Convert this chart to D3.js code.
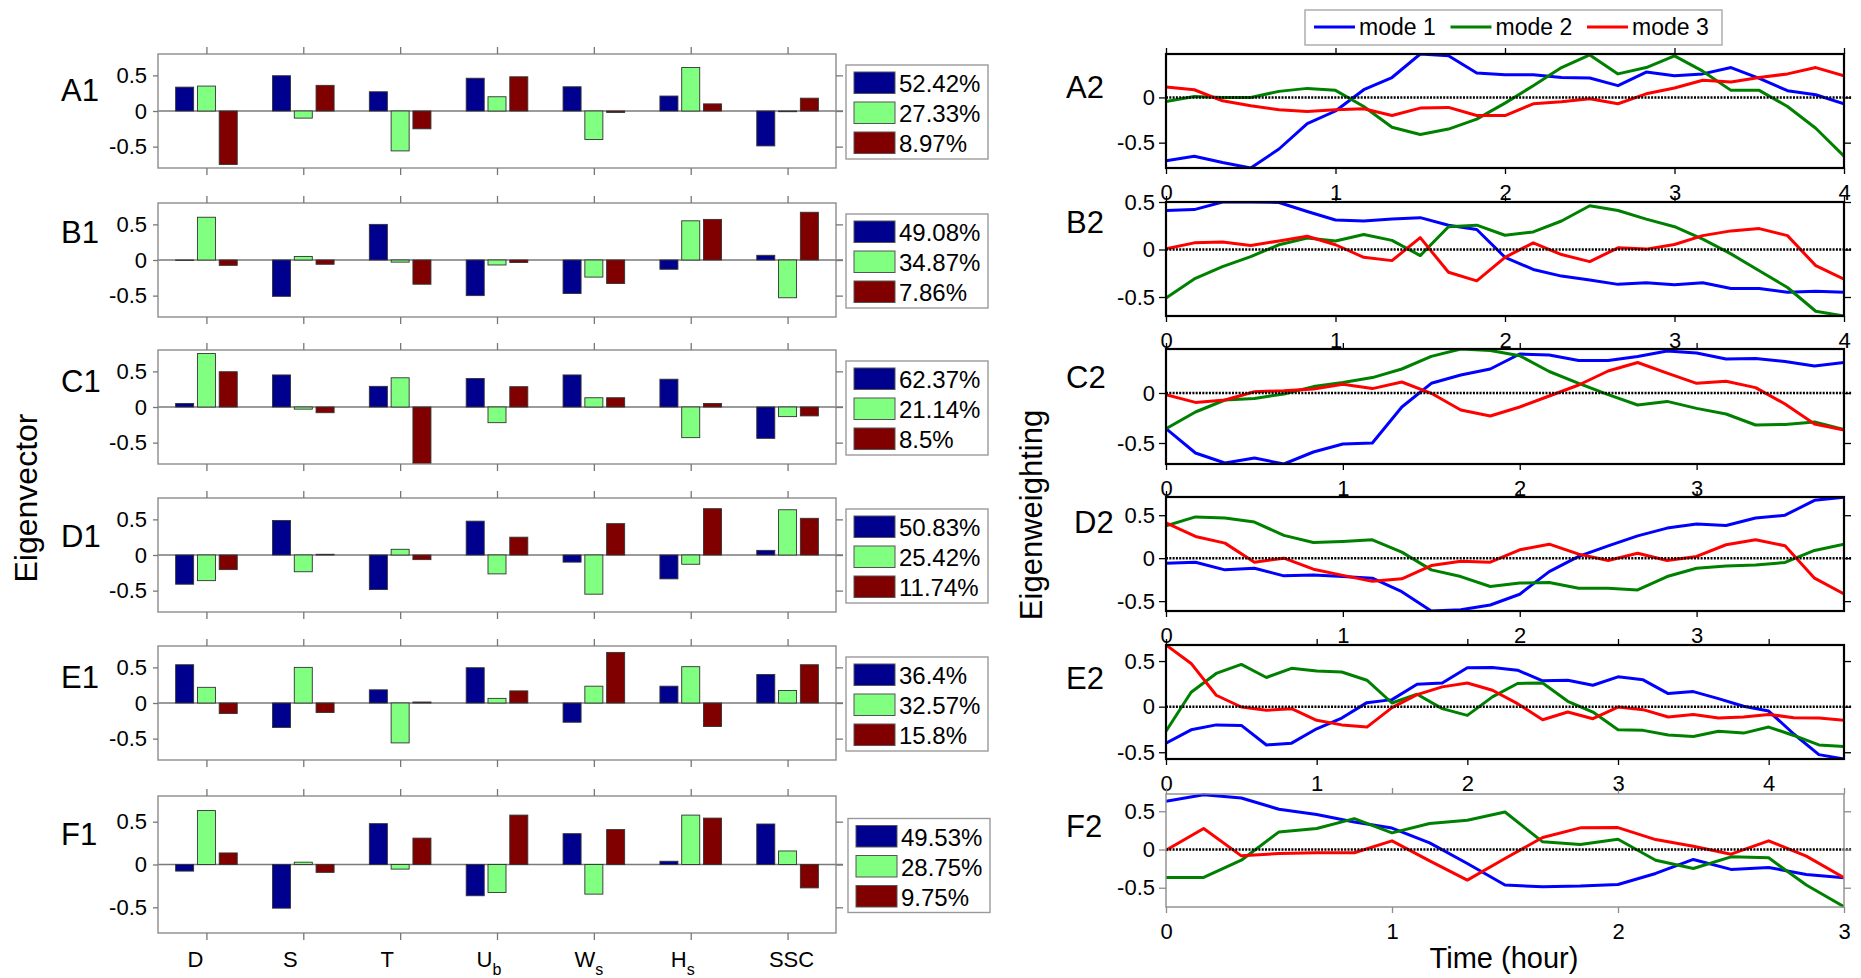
<!DOCTYPE html>
<html>
<head>
<meta charset="utf-8">
<script src="https://cdn.jsdelivr.net/npm/d3@7"></script>
<style>
  body { margin: 0; background: #fff; }
  svg text { font-family: "Liberation Sans", Arial, Helvetica, sans-serif; fill: #000; }
</style>
</head>
<body>
<svg id="chart" width="1861" height="978"></svg>
<script>
// ---------------- data ----------------
const categoryMain = ["D", "S", "T", "U", "W", "H", "SSC"];
const categorySub  = ["",  "",  "",  "b", "s", "s", ""];
const modeNames = ["mode 1", "mode 2", "mode 3"];
const panelNames = ["A", "B", "C", "D", "E", "F"];

// eigenvectors (mode 1, mode 2, mode 3) for each variable
const eigenA = [
  [0.335, 0.495, 0.27, 0.46, 0.34, 0.21, -0.49],
  [0.35, -0.10, -0.56, 0.20, -0.40, 0.61, -0.01],
  [-0.75, 0.36, -0.25, 0.48, -0.02, 0.10, 0.18]
];
const eigenB = [
  [-0.005, -0.51, 0.50, -0.50, -0.47, -0.13, 0.066],
  [0.60, 0.05, -0.03, -0.07, -0.24, 0.55, -0.53],
  [-0.075, -0.06, -0.34, -0.035, -0.33, 0.57, 0.67]
];
const eigenC = [
  [0.05, 0.45, 0.29, 0.40, 0.45, 0.39, -0.44],
  [0.75, -0.03, 0.41, -0.22, 0.13, -0.43, -0.135],
  [0.495, -0.08, -0.80, 0.285, 0.13, 0.05, -0.125]
];
const eigenD = [
  [-0.41, 0.485, -0.485, 0.475, -0.10, -0.335, 0.065],
  [-0.36, -0.235, 0.08, -0.265, -0.55, -0.13, 0.635],
  [-0.205, 0.01, -0.065, 0.25, 0.44, 0.65, 0.515]
];
const eigenE = [
  [0.537, -0.343, 0.185, 0.495, -0.27, 0.236, 0.40],
  [0.22, 0.50, -0.56, 0.065, 0.236, 0.51, 0.176],
  [-0.148, -0.134, 0.014, 0.17, 0.71, -0.33, 0.537]
];
const eigenF = [
  [-0.077, -0.51, 0.477, -0.365, 0.36, 0.038, 0.473],
  [0.63, 0.027, -0.054, -0.327, -0.346, 0.577, 0.158],
  [0.135, -0.092, 0.308, 0.577, 0.408, 0.542, -0.273]
];

// explained variance of each mode (%)
const varianceA = [52.42, 27.33, 8.97];
const varianceB = [49.08, 34.87, 7.86];
const varianceC = [62.37, 21.14, 8.5];
const varianceD = [50.83, 25.42, 11.74];
const varianceE = [36.4, 32.57, 15.8];
const varianceF = [49.53, 28.75, 9.75];

// eigenweighting time series, sampled every 10 minutes
const timeStep = 1 / 6; // hours
const weightA1 = [-0.70, -0.65, -0.72, -0.78, -0.57, -0.29, -0.15, 0.085, 0.22, 0.48, 0.46, 0.27, 0.25, 0.25, 0.22, 0.215, 0.13, 0.28, 0.24, 0.26, 0.33, 0.21, 0.075, 0.03, -0.07];
const weightA2 = [-0.045, 0.01, 0.0, 0.0, 0.067, 0.10, 0.078, -0.10, -0.33, -0.41, -0.35, -0.24, -0.063, 0.13, 0.33, 0.47, 0.26, 0.33, 0.46, 0.29, 0.078, 0.078, -0.10, -0.34, -0.65];
const weightA3 = [0.115, 0.085, -0.037, -0.093, -0.137, -0.155, -0.137, -0.126, -0.20, -0.118, -0.11, -0.20, -0.20, -0.07, -0.048, -0.015, -0.07, 0.04, 0.104, 0.19, 0.17, 0.22, 0.26, 0.33, 0.24];

const weightB1 = [0.41, 0.42, 0.50, 0.50, 0.495, 0.40, 0.31, 0.30, 0.32, 0.335, 0.256, 0.21, -0.082, -0.21, -0.28, -0.32, -0.367, -0.35, -0.37, -0.35, -0.41, -0.41, -0.45, -0.44, -0.45];
const weightB2 = [-0.51, -0.31, -0.18, -0.075, 0.05, 0.12, 0.09, 0.157, 0.096, -0.064, 0.24, 0.256, 0.15, 0.185, 0.30, 0.46, 0.41, 0.32, 0.24, 0.11, -0.046, -0.224, -0.40, -0.65, -0.70];
const weightB3 = [0.007, 0.07, 0.08, 0.043, 0.09, 0.14, 0.05, -0.082, -0.117, 0.125, -0.24, -0.33, -0.082, 0.07, -0.053, -0.128, 0.018, 0.004, 0.053, 0.146, 0.196, 0.22, 0.146, -0.17, -0.313];

const weightC1 = [-0.356, -0.60, -0.70, -0.65, -0.71, -0.59, -0.51, -0.50, -0.14, 0.097, 0.18, 0.24, 0.39, 0.38, 0.325, 0.325, 0.366, 0.42, 0.40, 0.34, 0.345, 0.315, 0.27, 0.305];
const weightC2 = [-0.356, -0.19, -0.07, -0.054, -0.01, 0.064, 0.104, 0.154, 0.24, 0.366, 0.44, 0.426, 0.372, 0.215, 0.097, -0.017, -0.12, -0.084, -0.154, -0.21, -0.32, -0.315, -0.29, -0.366];
const weightC3 = [-0.017, -0.094, -0.07, 0.013, 0.023, 0.04, 0.087, 0.044, 0.11, -0.003, -0.17, -0.23, -0.14, -0.03, 0.08, 0.22, 0.305, 0.198, 0.097, 0.117, 0.054, -0.11, -0.31, -0.37];

const weightD1 = [-0.058, -0.047, -0.136, -0.117, -0.206, -0.195, -0.214, -0.233, -0.39, -0.615, -0.60, -0.545, -0.42, -0.156, 0.02, 0.144, 0.26, 0.35, 0.397, 0.38, 0.467, 0.50, 0.673, 0.71];
const weightD2 = [0.377, 0.48, 0.467, 0.42, 0.265, 0.183, 0.195, 0.214, 0.07, -0.136, -0.214, -0.33, -0.29, -0.284, -0.35, -0.35, -0.37, -0.214, -0.117, -0.09, -0.08, -0.05, 0.09, 0.163];
const weightD3 = [0.41, 0.253, 0.175, -0.047, 0.0, -0.128, -0.20, -0.27, -0.24, -0.086, -0.035, -0.047, 0.097, 0.163, 0.047, -0.027, 0.058, -0.027, 0.02, 0.156, 0.214, 0.144, -0.233, -0.416];

const weightE1 = [-0.40, -0.254, -0.20, -0.206, -0.42, -0.40, -0.243, -0.125, 0.044, 0.077, 0.246, 0.26, 0.426, 0.43, 0.40, 0.283, 0.29, 0.235, 0.327, 0.294, 0.143, 0.165, 0.088, 0.004, -0.048, -0.30, -0.526, -0.574];
const weightE2 = [-0.27, 0.158, 0.364, 0.463, 0.32, 0.42, 0.39, 0.38, 0.29, 0.04, 0.136, -0.022, -0.096, 0.107, 0.254, 0.26, 0.059, -0.059, -0.254, -0.26, -0.31, -0.327, -0.27, -0.29, -0.224, -0.316, -0.42, -0.437];
const weightE3 = [0.676, 0.474, 0.125, -0.004, -0.04, -0.022, -0.15, -0.20, -0.224, -0.011, 0.132, 0.217, 0.26, 0.18, 0.033, -0.143, -0.059, -0.132, -0.004, -0.033, -0.114, -0.085, -0.125, -0.114, -0.085, -0.121, -0.125, -0.15];

const weightF1 = [0.63, 0.717, 0.674, 0.526, 0.457, 0.36, 0.28, 0.087, -0.183, -0.465, -0.487, -0.478, -0.457, -0.313, -0.13, -0.26, -0.235, -0.326, -0.37];
const weightF2 = [-0.365, -0.365, -0.14, 0.23, 0.274, 0.404, 0.217, 0.34, 0.383, 0.49, 0.10, 0.065, 0.135, -0.14, -0.248, -0.096, -0.109, -0.465, -0.748];
const weightF3 = [-0.009, 0.274, -0.083, -0.052, -0.043, -0.043, 0.113, -0.148, -0.40, -0.117, 0.157, 0.283, 0.287, 0.13, 0.043, -0.061, 0.113, -0.087, -0.37];

const eigenSets = [eigenA, eigenB, eigenC, eigenD, eigenE, eigenF];
const varianceSets = [varianceA, varianceB, varianceC, varianceD, varianceE, varianceF];
const weightSets = [
  [weightA1, weightA2, weightA3], [weightB1, weightB2, weightB3], [weightC1, weightC2, weightC3],
  [weightD1, weightD2, weightD3], [weightE1, weightE2, weightE3], [weightF1, weightF2, weightF3]
];

// ---------------- layout & style ----------------
const barColors = ["#00008f", "#80ff80", "#800000"];
const lineColors = ["#0000ff", "#008000", "#ff0000"];
const leftRange = [158, 836];
const rightRange = [1166, 1844];
const leftTops = [54, 203, 350, 498, 646, 796];
const leftHeights = [114, 114, 114, 114, 114, 137];
const rightTops = [54, 202, 349, 497, 645, 794];
const rightHeights = [114, 114, 115, 114, 114, 113];
const leftYDomain = [-0.8, 0.8];
const rightYDomains = [[-0.78, 0.48], [-0.70, 0.50], [-0.71, 0.44], [-0.615, 0.712], [-0.574, 0.676], [-0.752, 0.726]];
const leftLabelDy = [47, 40, 42, 49, 42, 49];
const rightLabelDy = [44, 31, 39, 36, 44, 43];
const rightLabelX = [1066, 1066, 1066, 1074, 1066, 1066];
const categoryDx = [-11, -13, -13, -8, -5, -8, 4];
const barOffset = 0.225, barWidth = 0.186;

const svg = d3.select("#chart");
const yTickFormat = d => (d === 0 ? "0" : String(d));

function styleAxis(sel, color, fontSize) {
  sel.select(".domain").remove();
  sel.selectAll(".tick line").attr("stroke", color).attr("stroke-width", 1.3);
  sel.selectAll(".tick text").attr("font-size", fontSize).attr("fill", "#000")
    .attr("font-family", '"Liberation Sans", Arial, Helvetica, sans-serif');
}

// ---------------- eigenvector bar panels ----------------
panelNames.forEach((name, k) => {
  const top = leftTops[k], h = leftHeights[k], bottom = top + h;
  const x = d3.scaleLinear().domain([0.5, 7.5]).range(leftRange);
  const y = d3.scaleLinear().domain(leftYDomain).range([bottom, top]);
  const g = svg.append("g").attr("class", "bar-panel");

  g.append("rect").attr("x", leftRange[0]).attr("y", top)
    .attr("width", leftRange[1] - leftRange[0]).attr("height", h).attr("fill", "#fff");

  const clipId = "clipL" + k;
  g.append("clipPath").attr("id", clipId).append("rect")
    .attr("x", leftRange[0]).attr("y", top).attr("width", leftRange[1] - leftRange[0]).attr("height", h);

  // zero baseline
  g.append("line").attr("x1", leftRange[0]).attr("x2", leftRange[1] + 7)
    .attr("y1", y(0)).attr("y2", y(0)).attr("stroke", "#7a7a7a").attr("stroke-width", 1.5);

  const bars = g.append("g").attr("clip-path", `url(#${clipId})`);
  eigenSets[k].forEach((series, j) => {
    bars.selectAll(null).data(series).join("rect")
      .attr("x", (v, i) => x(i + 1 + (j - 1) * barOffset - barWidth / 2))
      .attr("width", x(1 + barWidth) - x(1))
      .attr("y", v => y(Math.max(0, v)))
      .attr("height", v => Math.abs(y(v) - y(0)))
      .attr("fill", barColors[j]).attr("stroke", "#333").attr("stroke-width", 0.9);
  });

  g.append("rect").attr("x", leftRange[0]).attr("y", top)
    .attr("width", leftRange[1] - leftRange[0]).attr("height", h)
    .attr("fill", "none").attr("stroke", "#8c8c8c").attr("stroke-width", 1.4);

  const ticks = d3.range(1, 8);
  g.append("g").attr("transform", `translate(0,${top})`)
    .call(d3.axisTop(x).tickValues(ticks).tickSize(7).tickFormat(""))
    .call(styleAxis, "#777", 22);
  g.append("g").attr("transform", `translate(0,${bottom})`)
    .call(d3.axisBottom(x).tickValues(ticks).tickSize(7).tickFormat(""))
    .call(styleAxis, "#777", 22);
  g.append("g").attr("transform", `translate(${leftRange[0]},0)`)
    .call(d3.axisLeft(y).tickValues([-0.5, 0, 0.5]).tickSize(5).tickPadding(6).tickFormat(yTickFormat))
    .call(styleAxis, "#777", 22);
  g.append("g").attr("transform", `translate(${leftRange[1]},0)`)
    .call(d3.axisRight(y).tickValues([-0.5, 0, 0.5]).tickSize(7).tickFormat(""))
    .call(styleAxis, "#777", 22);

  // panel label
  g.append("text").attr("x", 61).attr("y", top + leftLabelDy[k])
    .attr("font-size", 31).text(name + "1");

  // legend with explained variance
  const lgH = 94, lgW = 142;
  const lgX = 846 + (k === 5 ? 2 : 0);
  const lgY = top + h / 2 - lgH / 2 + 1;
  const lg = g.append("g").attr("transform", `translate(${lgX},${lgY})`);
  lg.append("rect").attr("width", lgW).attr("height", lgH)
    .attr("fill", "#fff").attr("stroke", "#9a9a9a").attr("stroke-width", 1.4);
  varianceSets[k].forEach((v, j) => {
    lg.append("rect").attr("x", 8).attr("y", 7 + j * 30).attr("width", 41).attr("height", 21.5)
      .attr("fill", barColors[j]).attr("stroke", "#555").attr("stroke-width", 1);
    lg.append("text").attr("x", 53).attr("y", 27 + j * 30)
      .attr("font-size", 24).text(v + "%");
  });

  // variable names under the last panel
  if (k === panelNames.length - 1) {
    categoryMain.forEach((c, i) => {
      const t = g.append("text").attr("x", x(i + 1) + categoryDx[i]).attr("y", bottom + 34)
        .attr("font-size", 22).attr("text-anchor", "middle");
      t.append("tspan").text(c);
      if (categorySub[i]) {
        t.append("tspan").attr("font-size", 16).attr("dy", 8).text(categorySub[i]);
      }
    });
  }
});

// ---------------- eigenweighting line panels ----------------
panelNames.forEach((name, k) => {
  const top = rightTops[k], h = rightHeights[k], bottom = top + h;
  const series = weightSets[k];
  const tMax = (series[0].length - 1) * timeStep;
  const x = d3.scaleLinear().domain([0, tMax]).range(rightRange);
  const y = d3.scaleLinear().domain(rightYDomains[k]).range([bottom, top]);
  const g = svg.append("g").attr("class", "line-panel");
  const isLast = k === panelNames.length - 1;
  const frameColor = isLast ? "#8c8c8c" : "#000";
  const frameWidth = isLast ? 1.4 : 2.2;

  const clipId = "clipR" + k;
  g.append("clipPath").attr("id", clipId).append("rect")
    .attr("x", rightRange[0]).attr("y", top - 1).attr("width", rightRange[1] - rightRange[0]).attr("height", h + 2);

  const line = d3.line().x((d, i) => x(i * timeStep)).y(d => y(d));
  const lines = g.append("g").attr("clip-path", `url(#${clipId})`);
  series.forEach((s, j) => {
    lines.append("path").datum(s).attr("d", line)
      .attr("fill", "none").attr("stroke", lineColors[j]).attr("stroke-width", 3)
      .attr("stroke-linejoin", "round");
  });

  // dotted zero reference
  g.append("line").attr("x1", rightRange[0]).attr("x2", rightRange[1] + 8)
    .attr("y1", y(0)).attr("y2", y(0))
    .attr("stroke", "#000").attr("stroke-width", 2.5).attr("stroke-dasharray", "2,1.3");

  g.append("rect").attr("x", rightRange[0]).attr("y", top)
    .attr("width", rightRange[1] - rightRange[0]).attr("height", h)
    .attr("fill", "none").attr("stroke", frameColor).attr("stroke-width", frameWidth);

  const hourTicks = d3.range(0, Math.floor(tMax + 1e-9) + 1);
  const yTicks = [-0.5, 0, 0.5].filter(v => v >= y.domain()[0] && v <= y.domain()[1]);
  g.append("g").attr("transform", `translate(0,${top})`)
    .call(d3.axisTop(x).tickValues(hourTicks).tickSize(6).tickFormat(""))
    .call(styleAxis, frameColor, 22);
  g.append("g").attr("transform", `translate(0,${bottom})`)
    .call(d3.axisBottom(x).tickValues(hourTicks).tickSize(6).tickPadding(10).tickFormat(d3.format("d")))
    .call(styleAxis, frameColor, 22);
  g.append("g").attr("transform", `translate(${rightRange[0]},0)`)
    .call(d3.axisLeft(y).tickValues(yTicks).tickSize(7).tickPadding(4).tickFormat(yTickFormat))
    .call(styleAxis, frameColor, 22);
  g.append("g").attr("transform", `translate(${rightRange[1]},0)`)
    .call(d3.axisRight(y).tickValues(yTicks).tickSize(7).tickFormat(""))
    .call(styleAxis, frameColor, 22);

  g.append("text").attr("x", rightLabelX[k]).attr("y", top + rightLabelDy[k])
    .attr("font-size", 31).text(name + "2");
});

// ---------------- legend for modes ----------------
const topLegend = svg.append("g");
topLegend.append("rect").attr("x", 1305).attr("y", 10).attr("width", 417).attr("height", 35)
  .attr("fill", "#fff").attr("stroke", "#a8a8a8").attr("stroke-width", 1.4);
modeNames.forEach((m, j) => {
  const x0 = 1314 + j * 136.5;
  topLegend.append("line").attr("x1", x0).attr("x2", x0 + 41).attr("y1", 27).attr("y2", 27)
    .attr("stroke", lineColors[j]).attr("stroke-width", 3);
  topLegend.append("text").attr("x", x0 + 45).attr("y", 35).attr("font-size", 23).text(m);
});

// ---------------- axis titles ----------------
svg.append("text").attr("transform", "translate(37,498) rotate(-90)")
  .attr("text-anchor", "middle").attr("font-size", 32).text("Eigenvector");
svg.append("text").attr("transform", "translate(1042,515) rotate(-90)")
  .attr("text-anchor", "middle").attr("font-size", 31).text("Eigenweighting");
svg.append("text").attr("x", 1504).attr("y", 968)
  .attr("text-anchor", "middle").attr("font-size", 29).text("Time (hour)");
</script>
</body>
</html>
